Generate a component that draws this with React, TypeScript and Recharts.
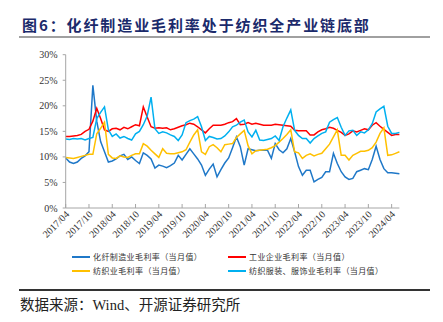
import React from 'react';
import { LineChart, Line, XAxis, YAxis } from 'recharts';

// monthly categories, 2017/04 .. 2024/06
const START_YEAR = 2017;
const START_MONTH = 4;
const MONTH_COUNT = 87;
const months: string[] = Array.from({ length: MONTH_COUNT }, (_, i) => {
  const m = START_MONTH - 1 + i;
  const y = START_YEAR + Math.floor(m / 12);
  return `${y}/${String((m % 12) + 1).padStart(2, '0')}`;
});

// 化纤制造业毛利率（当月值）
const chemFiber = [
  9.8, 9.0, 8.7, 9.0, 9.7, 10.2, 11.0, 24.0, 17.0, 13.0, 11.0, 9.0, 9.2, 9.6, 10.2, 10.5, 9.5, 10.0, 9.3, 8.7,
  10.8, 10.3, 9.6, 7.8, 8.4, 8.2, 7.9, 8.3, 8.8, 10.3, 9.4, 10.5, 11.6, 10.6, 9.6, 8.4, 6.4, 7.6, 8.6, 6.1,
  7.5, 8.8, 9.8, 11.8, 13.9, 12.0, 8.4, 11.6, 11.4, 11.2, 11.3, 11.3, 11.3, 9.7, 12.6, 11.4, 10.8, 11.6, 13.6, 11.0,
  8.1, 6.4, 7.4, 7.4, 5.1, 5.6, 6.0, 7.1, 7.1, 10.7, 8.7, 7.1, 6.1, 5.6, 5.8, 7.1, 7.4, 7.7, 7.5, 9.5,
  12.1, 9.5, 7.7, 6.9, 6.9, 6.8, 6.7,
];

// 工业企业毛利率（当月值）
const industry = [
  14.0, 14.0, 14.1, 14.2, 14.4, 15.0, 15.4, 17.0, 19.5, 17.5, 15.3, 15.0, 15.5, 15.6, 15.3, 15.8, 15.5, 15.9, 16.3, 16.1,
  19.8, 17.8, 15.9, 15.6, 15.7, 15.6, 15.7, 15.3, 15.5, 15.8, 16.1, 16.3, 16.6, 16.4, 15.9, 15.3, 14.7, 15.5, 16.2, 16.2,
  16.2, 16.4, 16.7, 16.9, 17.5, 16.3, 16.4, 16.7, 16.4, 16.6, 16.4, 16.2, 16.2, 16.2, 16.4, 16.3, 16.2, 16.1, 16.0, 15.2,
  15.1, 15.1, 15.1, 14.3, 14.3, 14.9, 15.3, 15.5, 15.8, 15.6, 15.2, 14.8, 14.2, 14.5, 15.1, 14.9, 15.2, 15.5, 15.3, 16.2,
  16.7, 16.0, 15.4, 14.8, 14.2, 14.4, 14.4,
];

// 纺织业毛利率（当月值）
const textile = [
  9.9, 9.8, 9.7, 9.9, 10.1, 10.3, 10.5, 10.5, 14.5, 15.6, 16.8, 10.5, 9.8, 9.7, 10.2, 10.0, 9.9, 10.3, 10.6, 10.6,
  12.6, 12.1, 11.3, 10.6, 9.9, 11.6, 10.7, 10.6, 10.6, 10.8, 11.0, 11.4, 12.9, 14.3, 15.3, 11.0, 10.5, 12.0, 12.4, 11.8,
  11.0, 12.4, 12.5, 12.6, 13.8, 14.5, 15.2, 12.2, 10.6, 11.2, 11.3, 11.4, 11.5, 11.8, 12.2, 12.9, 13.6, 14.4, 15.3, 11.0,
  10.8, 9.7, 10.3, 10.6, 10.2, 10.5, 10.7, 11.6, 12.5, 13.9, 15.3, 10.3, 10.3, 9.4, 10.3, 10.7, 11.1, 11.1, 11.3, 11.8,
  12.9, 14.6, 15.7, 10.3, 10.4, 10.7, 11.0,
];

// 纺织服装、服饰业毛利率（当月值）
const apparel = [
  13.5, 13.4, 13.6, 13.5, 13.6, 13.3, 13.6, 13.8, 17.5, 18.7, 19.8, 15.3, 14.0, 14.5, 13.7, 14.0, 13.6, 13.3, 14.5, 15.0,
  16.3, 18.0, 21.7, 15.5, 14.6, 14.9, 14.7, 14.3, 14.0, 13.2, 14.3, 16.7, 17.1, 17.4, 17.9, 15.9, 13.2, 14.0, 13.8, 13.5,
  13.6, 14.1, 14.9, 15.9, 16.2, 16.8, 17.2, 14.9, 13.9, 15.2, 13.3, 13.2, 13.4, 13.6, 14.1, 13.2, 15.9, 17.6, 19.2, 15.2,
  14.2, 13.6, 13.6, 12.7, 13.6, 14.1, 14.6, 14.9, 16.8, 17.3, 17.7, 15.8, 14.2, 15.1, 15.2, 14.2, 14.9, 14.7, 15.3, 16.5,
  18.8, 19.4, 19.9, 16.0, 14.6, 14.6, 14.8,
];

const yTicks = [0, 5, 10, 15, 20, 25, 30];

const series = [
  { key: 'chemFiber', name: '化纤制造业毛利率（当月值）', color: '#1F78C8' },
  { key: 'industry', name: '工业企业毛利率（当月值）', color: '#FF0000' },
  { key: 'textile', name: '纺织业毛利率（当月值）', color: '#FFC000' },
  { key: 'apparel', name: '纺织服装、服饰业毛利率（当月值）', color: '#00B0F0' },
];

const chartData = months.map((month, i) => ({
  month,
  chemFiber: chemFiber[i],
  industry: industry[i],
  textile: textile[i],
  apparel: apparel[i],
}));

const AXIS_COLOR = '#a6a6a6';
const SERIF = "'Liberation Serif', 'DejaVu Serif', serif";
const CJK = "'Noto Sans CJK SC', sans-serif";

// rotated month label plus a short tick pointing up into the plot
const MonthTick = ({ x, y, payload }: any) => (
  <g>
    <line x1={x} y1={y} x2={x} y2={y - 4} stroke={AXIS_COLOR} />
    <text
      x={x}
      y={y}
      dx={-2}
      dy={8}
      transform={`rotate(-45, ${x}, ${y})`}
      textAnchor="end"
      fontSize={10}
      fontFamily={SERIF}
      fill="#333"
    >
      {payload.value}
    </text>
  </g>
);

const LegendItem = ({ color, label, left, top }: any) => (
  <div style={{ position: 'absolute', left, top, display: 'flex', alignItems: 'center', height: 12 }}>
    <div style={{ width: 18, height: 2, background: color, marginRight: 3 }} />
    <span style={{ fontSize: 8, fontFamily: CJK, color: '#333', letterSpacing: 0.4, whiteSpace: 'nowrap' }}>{label}</span>
  </div>
);

export default function App() {
  return (
    <div style={{ position: 'fixed', left: 0, top: 0, width: 443, height: 322, background: '#fff', overflow: 'hidden' }}>
      {/* Title */}
      <div
        style={{
          position: 'absolute',
          left: 22,
          top: 14,
          fontSize: 15,
          fontWeight: 'bold',
          fontFamily: CJK,
          color: '#1b2a6b',
          letterSpacing: 1.9,
          whiteSpace: 'nowrap',
        }}
      >
        图6：化纤制造业毛利率处于纺织全产业链底部
      </div>
      <div style={{ position: 'absolute', left: 19, top: 36, width: 411, height: 2, background: '#a0a0a0' }} />

      <div style={{ position: 'absolute', left: 0, top: 0 }}>
        <LineChart
          width={443}
          height={322}
          data={chartData}
          margin={{ top: 54.7, right: 43.6, left: 0, bottom: 74 }}
        >
          <XAxis
            dataKey="month"
            interval={5}
            tickLine={false}
            tickSize={0}
            tickMargin={0}
            axisLine={{ stroke: AXIS_COLOR }}
            tick={<MonthTick />}
            height={40}
          />
          <YAxis
            width={65.7}
            domain={[0, 30]}
            ticks={yTicks}
            interval={0}
            tickFormatter={(v: number) => `${v}%`}
            axisLine={{ stroke: AXIS_COLOR }}
            tickLine={{ stroke: AXIS_COLOR }}
            tickSize={3}
            tickMargin={5}
            tick={{ fontSize: 10, fontFamily: SERIF, fill: '#333' }}
          />
          {series.map((s) => (
            <Line
              key={s.key}
              type="linear"
              dataKey={s.key}
              name={s.name}
              stroke={s.color}
              strokeWidth={1.5}
              dot={false}
              isAnimationActive={false}
            />
          ))}
        </LineChart>
      </div>

      {/* Legend */}
      <LegendItem color={series[0].color} label={series[0].name} left={72} top={250.5} />
      <LegendItem color={series[1].color} label={series[1].name} left={228} top={250.5} />
      <LegendItem color={series[2].color} label={series[2].name} left={72} top={264.5} />
      <LegendItem color={series[3].color} label={series[3].name} left={228} top={264.5} />

      {/* Footer */}
      <div style={{ position: 'absolute', left: 19, top: 289, width: 411, height: 1.5, background: '#333' }} />
      <div
        style={{
          position: 'absolute',
          left: 20,
          top: 293,
          fontSize: 14.5,
          fontFamily: `'Liberation Serif', ${CJK}`,
          color: '#222',
          whiteSpace: 'nowrap',
        }}
      >
        数据来源：Wind、开源证券研究所
      </div>
    </div>
  );
}
